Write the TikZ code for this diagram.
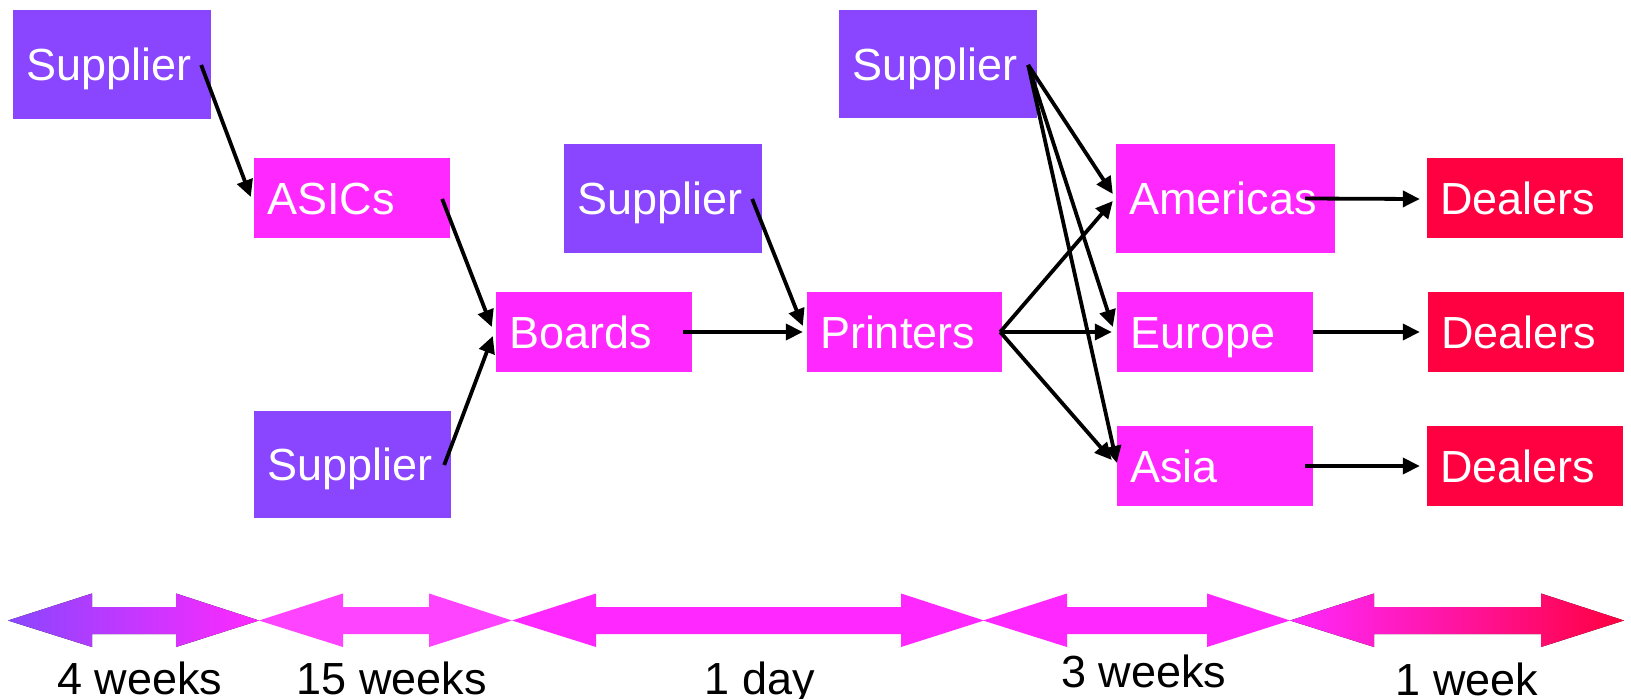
\documentclass[tikz,border=0pt]{standalone}
\usepackage{fontspec}
\setmainfont{Liberation Sans}
\usetikzlibrary{arrows.meta,calc}
\definecolor{suppcol}{RGB}{138,70,255}
\definecolor{midcol}{RGB}{255,40,255}
\definecolor{dealcol}{RGB}{255,0,64}
\definecolor{lightpink}{RGB}{255,68,255}
\newcommand\myDblArrow[3]{%
  \fill[#3] (#1,620.5) -- (#1+84,593.5) -- (#1+84,607) -- (#2-83,607) -- (#2-83,593.5) -- (#2,620.5)
    -- (#2-83,647) -- (#2-83,634) -- (#1+84,634) -- (#1+84,647) -- cycle;}
\begin{document}
\begin{tikzpicture}[x=1pt,y=-1pt,
  box/.style n args={3}{fill=#1, text width=#2, minimum height=#3, anchor=center,
     text=white, font=\fontsize{45}{54}\selectfont, inner xsep=13pt, inner ysep=0pt,
     align=left, text height=32pt, text depth=0pt},
  lab/.style={font=\fontsize{45}{54}\selectfont, inner sep=0pt, anchor=base, text=black},
  conn/.style={line width=3.8pt, draw=black, -{Triangle[length=17pt,width=16pt]}}]
\useasboundingbox (0,0) rectangle (1631,699);
\fill[white] (0,0) rectangle (1631,699);

% nodes
\node[box={suppcol}{172pt}{109pt}] (s1) at (112,64.5) {Supplier};
\node[box={midcol}{170pt}{80pt}] (asics) at (352,198) {ASICs};
\node[box={suppcol}{171pt}{107pt}] (s2) at (352.5,464.5) {Supplier};
\node[box={midcol}{170pt}{80pt}] (boards) at (594,332) {Boards};
\node[box={suppcol}{172pt}{109pt}] (s3) at (663,198.5) {Supplier};
\node[box={midcol}{169pt}{80pt}] (printers) at (904.5,332) {Printers};
\node[box={suppcol}{172pt}{108pt}] (s4) at (938,64) {Supplier};
\node[box={midcol}{193pt}{109pt}] (americas) at (1225.5,198.5) {Americas};
\node[box={midcol}{170pt}{80pt}] (europe) at (1215,332) {Europe};
\node[box={midcol}{170pt}{80pt}] (asia) at (1215,466) {Asia};
\node[box={dealcol}{170pt}{80pt}] (d1) at (1525,198) {Dealers};
\node[box={dealcol}{170pt}{80pt}] (d2) at (1526,332) {Dealers};
\node[box={dealcol}{170pt}{80pt}] (d3) at (1525,466) {Dealers};

% connectors
\draw[conn] ($(s1.east)+(-10,0.5)$) -- ($(asics.west)+(-3,-1)$);
\draw[conn] ($(asics.east)+(-8,1)$) -- ($(boards.west)+(-4,-5)$);
\draw[conn] ($(s2.east)+(-7,0.5)$) -- ($(boards.west)+(-3,4)$);
\draw[conn] ($(boards.east)+(-9,0)$) -- ($(printers.west)+(-4,0)$);
\draw[conn] ($(s3.east)+(-10,0.5)$) -- ($(printers.west)+(-4,-6)$);
\draw[conn] ($(s4.east)+(-9,1)$) -- ($(americas.west)+(-3,-4.5)$);
\draw[conn] ($(s4.east)+(-9,1)$) -- ($(europe.west)+(-4,-5)$);
\draw[conn] ($(s4.east)+(-9,1)$) -- ($(asia.west)+(0,-3)$);
\draw[conn] ($(printers.east)+(-2,0)$) -- ($(americas.west)+(-3,2.5)$);
\draw[conn] ($(printers.east)+(-2,0)$) -- ($(europe.west)+(-5,0)$);
\draw[conn] ($(printers.east)+(-2,0)$) -- ($(asia.west)+(-5,-6)$);
\draw[conn] ($(americas.east)+(-30,0)$) -- ($(d1.west)+(-7,1)$);
\draw[conn] (europe.east) -- ($(d2.west)+(-8,0)$);
\draw[conn] ($(asia.east)+(-8,0)$) -- ($(d3.west)+(-7,0)$);

% time-line arrows
\myDblArrow{8}{259}{left color=suppcol, right color=midcol}
\myDblArrow{259}{512}{lightpink}
\myDblArrow{512}{984}{midcol}
\myDblArrow{983}{1290}{midcol}
\myDblArrow{1290}{1624}{left color=midcol, right color=dealcol}

% labels
\node[lab] (l1) at (140,694) {4 weeks};
\node[lab] (l2) at (392,694) {15 weeks};
\node[lab] (l3) at (760,694) {1 day};
\node[lab] (l4) at (1144,687) {3 weeks};
\node[lab] (l5) at (1467,695) {1 week};
\end{tikzpicture}
\end{document}
